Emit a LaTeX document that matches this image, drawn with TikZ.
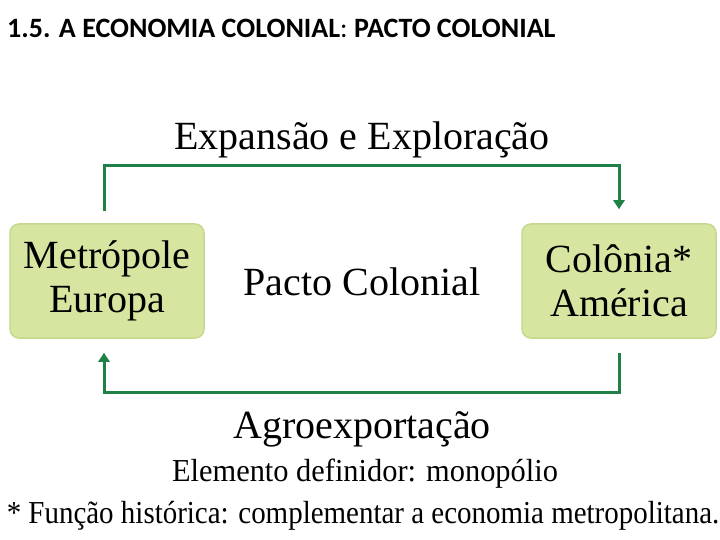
\documentclass[tikz,border=0pt]{standalone}
\usepackage{fontspec}
\setmainfont{Liberation Serif}
\newfontfamily\titlefont{Carlito}
\usetikzlibrary{arrows.meta}
\definecolor{boxfill}{HTML}{D6E6A0}
\definecolor{boxedge}{HTML}{C5D98E}
\definecolor{linegreen}{HTML}{1F8048}
\tikzset{
  greenbox/.style={draw=boxedge, line width=1.5pt, fill=boxfill, rounded corners=9pt,
    minimum width=194pt, minimum height=114pt, align=center, inner sep=0pt,
    font=\fontsize{40}{44}\selectfont},
  conn/.style={draw=linegreen, line width=3pt, -{Triangle[width=11pt,length=9pt]}},
  biglabel/.style={inner sep=0pt, font=\fontsize{40}{44}\selectfont},
  smalllabel/.style={inner sep=0pt, font=\fontsize{32}{34}\selectfont}
}
\begin{document}
\begin{tikzpicture}[x=1pt,y=-1pt]
\useasboundingbox (0,0) rectangle (720,540);
\node[anchor=base west, inner sep=0pt, font=\titlefont\fontsize{28}{30}\selectfont] (title) at (7,38)
  {\textbf{1.5. A ECONOMIA COLONIAL}: \textbf{PACTO COLONIAL}};
\node[greenbox] (L) at (107,281) {Metrópole\\Europa};
\node[greenbox] (R) at (619,281) {Colônia*\\América};
\node[biglabel, anchor=base] (expl) at (362,150) {Expansão e Exploração};
\node[biglabel, anchor=base] (pacto) at (362,295) {Pacto Colonial};
\node[biglabel, anchor=base] (agro) at (362,438) {Agroexportação};
\node[smalllabel, anchor=base] (elem) at (365,481) {\scalebox{0.95}[1]{Elemento definidor: monopólio}};
\node[smalllabel, anchor=base] (func) at (363,523) {\scalebox{0.905}[1]{* Função histórica: complementar a economia metropolitana.}};
\coordinate (topbend) at (362,166);
\coordinate (botbend) at (362,392);
\draw[conn] ([yshift=12pt,xshift=-3pt]L.north) |- (topbend) -| ([yshift=14pt]R.north);
\draw[conn] ([yshift=-14pt]R.south) |- (botbend) -| ([yshift=-14pt,xshift=-3pt]L.south);
\end{tikzpicture}
\end{document}
